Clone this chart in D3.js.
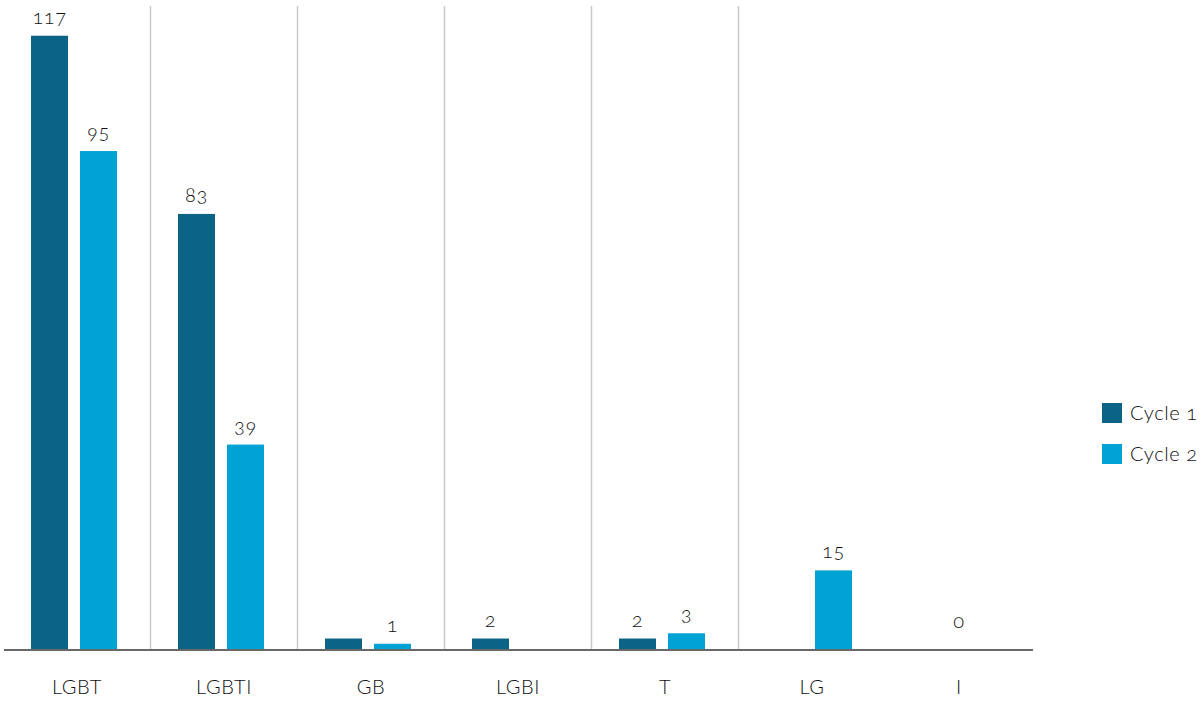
<!DOCTYPE html>
<html>
<head>
<meta charset="utf-8">
<script src="https://cdn.jsdelivr.net/npm/d3@7"></script>
<style>
  html, body { margin: 0; padding: 0; background: #fff; }
  svg text { font-family: Lato, "Open Sans", sans-serif; font-weight: 300; fill: #111; letter-spacing: 0.6px; font-variant-numeric: oldstyle-nums; font-feature-settings: "onum" 1; }
</style>
</head>
<body>
<svg id="chart" width="1203" height="702"></svg>
<script>
// Categories and counts for each cycle (null = no bar)
const categories = ["LGBT", "LGBTI", "GB", "LGBI", "T", "LG", "I"];
const seriesNames = ["Cycle 1", "Cycle 2"];
const cycle1 = [117, 83, 2, 2, 2, null, null];
const cycle2 = [95, 39, 1, null, 3, 15, 0];
const colors = ["#0b6385", "#00a3d3"];
// bars drawn without a value label
const unlabeled = [["Cycle 1", "GB"]];

const series = [cycle1, cycle2];
const rows = [];
series.forEach((vals, si) => {
  vals.forEach((v, ci) => {
    if (v !== null) rows.push({ series: seriesNames[si], cat: categories[ci], value: v, si });
  });
});

const svg = d3.select("#chart");
const plotTop = 6, baseY = 649;

const x0 = d3.scaleBand().domain(categories).range([3.5, 1032.5]).paddingInner(0).paddingOuter(0);
const x1 = d3.scaleBand().domain(seriesNames).range([27.5, 113.5]).paddingInner(0.245).paddingOuter(0);
const y = d3.scaleLinear().domain([0, 120]).range([baseY, 20]);

// vertical separators between categories
const seps = categories.slice(1, categories.length - 1).map(c => x0(c));
svg.append("g").selectAll("line").data(seps).join("line")
  .attr("x1", d => d).attr("x2", d => d)
  .attr("y1", plotTop).attr("y2", baseY)
  .attr("stroke", "#cacaca").attr("stroke-width", 1.5);

// bars
svg.append("g").selectAll("rect").data(rows).join("rect")
  .attr("x", d => x0(d.cat) + x1(d.series))
  .attr("width", x1.bandwidth())
  .attr("y", d => y(d.value))
  .attr("height", d => y(0) - y(d.value))
  .attr("fill", d => colors[d.si]);

// value labels
const isHidden = d => unlabeled.some(([s, c]) => s === d.series && c === d.cat);
svg.append("g").selectAll("text").data(rows.filter(d => !isHidden(d))).join("text")
  .attr("x", d => d.value === 0 ? x0(d.cat) + x0.bandwidth() / 2 : x0(d.cat) + x1(d.series) + x1.bandwidth() / 2)
  .attr("y", d => d.value === 0 ? y(0) - 21 : y(d.value) - 12)
  .attr("text-anchor", "middle")
  .attr("font-size", 20)
  .text(d => d.value);

// baseline axis
const xAxis = d3.axisBottom(x0).tickSize(0).tickPadding(30);
const axisG = svg.append("g").attr("transform", `translate(0,${baseY + 1})`).call(xAxis);
axisG.select(".domain").attr("stroke", "#686868").attr("stroke-width", 2).attr("d", "M4,0H1033");
axisG.selectAll(".tick text").attr("font-size", 20).attr("fill", "#111")
  .style("font-family", "Lato, 'Open Sans', sans-serif");

// legend
const legend = svg.append("g").attr("transform", "translate(1102,403)");
const li = legend.selectAll("g").data(seriesNames).join("g")
  .attr("transform", (d, i) => `translate(0,${i * 41})`);
li.append("rect").attr("width", 20).attr("height", 20).attr("fill", (d, i) => colors[i]);
li.append("text").attr("x", 28).attr("y", 17).attr("font-size", 20).text(d => d);
</script>
</body>
</html>
